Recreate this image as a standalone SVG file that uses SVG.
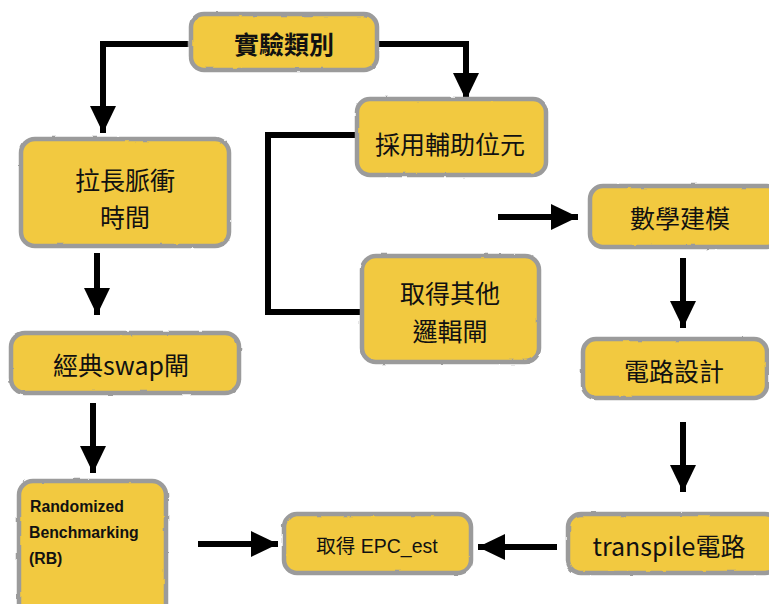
<svg xmlns="http://www.w3.org/2000/svg" width="769" height="604" viewBox="0 0 769 604">
<style>
.box{fill:#F2C93F;stroke:#9b9b9b;stroke-width:4.5;filter:url(#rough)}
.t{font-family:"Noto Sans CJK TC","Noto Sans CJK SC",sans-serif;font-size:25px;fill:#111;text-anchor:middle;dominant-baseline:central}
.epc{font-family:"Liberation Sans","Noto Sans CJK TC",sans-serif;font-size:19.5px}
.rb{font-family:"Liberation Sans",Arial,sans-serif;font-weight:bold;font-size:15.8px;fill:#111}
.c{fill:none;stroke:#000;stroke-width:6}
</style>
<defs>
<filter id="rough" x="-5%" y="-5%" width="110%" height="110%">
<feTurbulence type="fractalNoise" baseFrequency="0.08" numOctaves="2" seed="3" result="n"/>
<feDisplacementMap in="SourceGraphic" in2="n" scale="2.2" xChannelSelector="R" yChannelSelector="G"/>
</filter>
<marker id="ah" markerUnits="userSpaceOnUse" markerWidth="28" markerHeight="28" refX="27" refY="13" orient="auto">
<path d="M0,0 L27,13 L0,26 Z" fill="#000"/>
</marker>
</defs>
<rect width="769" height="604" fill="#fff"/>
<g id="connectors">
<polyline class="c" points="191,44 100,44"/>
<polyline class="c" points="103,44 103,133" marker-end="url(#ah)"/>
<polyline class="c" points="377,44 466,44 466,100" marker-end="url(#ah)"/>
<polyline class="c" points="357,135 268,135 268,312 362,312"/>
<line class="c" x1="498" y1="217" x2="578" y2="217" marker-end="url(#ah)"/>
<line class="c" x1="683" y1="258" x2="683" y2="328" marker-end="url(#ah)"/>
<line class="c" x1="683" y1="422" x2="683" y2="492" marker-end="url(#ah)"/>
<line class="c" x1="557" y1="547" x2="478" y2="547" marker-end="url(#ah)"/>
<line class="c" x1="97" y1="253" x2="97" y2="315" marker-end="url(#ah)"/>
<line class="c" x1="93" y1="403" x2="93" y2="473" marker-end="url(#ah)"/>
<line class="c" x1="198" y1="544" x2="278" y2="544" marker-end="url(#ah)"/>
</g>
<g id="n-type">
<rect class="box" x="191" y="14" width="186" height="56" rx="13"/>
<text class="t" x="284" y="43" font-weight="bold">實驗類別</text>
</g>
<g id="n-ancilla">
<rect class="box" x="357" y="99" width="189" height="76" rx="13"/>
<text class="t" x="450" y="143">採用輔助位元</text>
</g>
<g id="n-pulse">
<rect class="box" x="21" y="139" width="208" height="107" rx="14"/>
<text class="t" x="125" y="179">拉長脈衝</text>
<text class="t" x="125" y="216">時間</text>
</g>
<g id="n-other">
<rect class="box" x="362" y="256" width="177" height="106" rx="14"/>
<text class="t" x="450" y="292">取得其他</text>
<text class="t" x="450" y="330">邏輯閘</text>
</g>
<g id="n-math">
<rect class="box" x="590" y="186" width="190" height="61" rx="13"/>
<text class="t" x="680" y="217">數學建模</text>
</g>
<g id="n-circuit">
<rect class="box" x="583" y="339" width="184" height="59" rx="13"/>
<text class="t" x="674" y="370">電路設計</text>
</g>
<g id="n-swap">
<rect class="box" x="11" y="333" width="228" height="60" rx="14"/>
<text class="t" x="121" y="364">經典swap閘</text>
</g>
<g id="n-transpile">
<rect class="box" x="568" y="514" width="210" height="59" rx="13"/>
<text class="t" x="669" y="545">transpile電路</text>
</g>
<g id="n-epc">
<rect class="box" x="284" y="514" width="187" height="59" rx="13"/>
<text class="t epc" x="377" y="546">取得 EPC_est</text>
</g>
<g id="n-rb">
<rect class="box" x="19" y="481" width="147" height="140" rx="14"/>
<text class="rb" x="30" y="512">Randomized</text>
<text class="rb" x="29" y="538">Benchmarking</text>
<text class="rb" x="29" y="564">(RB)</text>
</g>
</svg>
